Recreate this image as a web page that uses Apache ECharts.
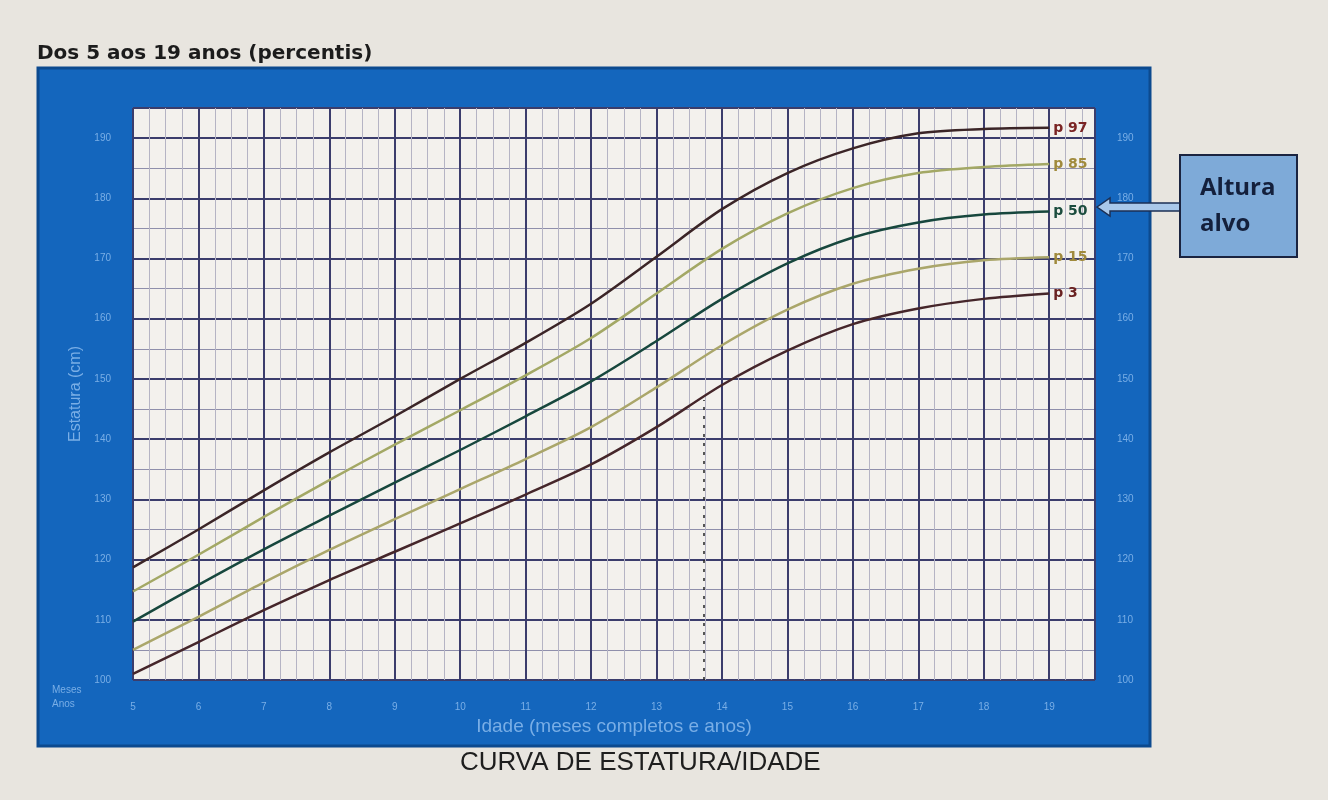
<!DOCTYPE html>
<html><head><meta charset="utf-8">
<script src="https://cdn.jsdelivr.net/npm/echarts@6/dist/echarts.min.js"></script>
<style>html,body{margin:0;padding:0;background:#e8e5df;}#c{width:1328px;height:800px;}</style>
</head><body><div id="c"></div>
<script>
const ages = [5,6,7,8,9,10,11,12,13,14,15,16,17,18,19];
const p97 = [118.7,125,131.5,137.8,143.8,150,156,162.5,170.3,178.2,184.2,188.3,190.8,191.5,191.7];
const p85 = [114.7,120.8,127.1,133.2,139.1,144.8,150.6,156.8,164.2,171.6,177.5,181.7,184.2,185.2,185.7];
const p50 = [109.7,115.8,121.7,127.3,132.8,138.2,143.8,149.6,156.3,163.3,169.2,173.5,176,177.3,177.8];
const p15 = [105,110.5,116.2,121.6,126.7,131.7,136.7,142,148.6,155.6,161.5,165.8,168.3,169.7,170.2];
const p3  = [101,106.3,111.6,116.6,121.3,126,130.8,135.8,142,149,154.7,159.1,161.7,163.3,164.2];
const names = ['p 97','p 85','p 50','p 15','p 3'];
const yTicks = [100,110,120,130,140,150,160,170,180,190];
const markerAge = 13.72, markerTop = 146.5;

const colors = ['#3b2527','#a3a865','#17473d','#aaa66a','#45262a'];
const labelColors = ['#7a2424','#a08a3c','#1c4d3e','#a08a3c','#6a2222'];
const all = [p97,p85,p50,p15,p3];
const lb = '#79aee6';
const series = all.map((arr,i)=>({
  type:'line', name:names[i], smooth:0.3, symbol:'none',
  data: ages.map((a,j)=>[a,arr[j]]),
  lineStyle:{color:colors[i], width:2.5},
  endLabel:{show:true, formatter:names[i], color:labelColors[i], fontWeight:'bold', fontSize:14, fontFamily:'DejaVu Sans', distance:4},
  z:5
}));
series[2].markLine = {silent:true, symbol:'none', label:{show:false},
  lineStyle:{type:[3,6], color:'#222', width:1.5},
  data:[[{coord:[markerAge,100]},{coord:[markerAge,markerTop]}]]};

const chart = echarts.init(document.getElementById('c'));
chart.setOption({
  animation:false,
  backgroundColor:'#e8e5df',
  graphic:[
    {type:'rect', shape:{x:38,y:68,width:1112,height:678}, style:{fill:'#1466bd', stroke:'#0c4a8f', lineWidth:3}, z:-10},
    {type:'text', left:37, top:44, style:{text:'Dos 5 aos 19 anos (percentis)', font:'bold 20px "DejaVu Sans"', fill:'#1c1c1c'}},
    {type:'text', left:460, top:750, style:{text:'CURVA DE ESTATURA/IDADE', font:'26px "Liberation Sans"', fill:'#1e1e1e'}},
    {type:'text', left:52, top:683, style:{text:'Meses\nAnos', font:'10px "Liberation Sans"', fill:lb, lineHeight:14, align:'center'}},
    {type:'polygon', shape:{points:[[1097,207],[1110,198],[1110,203],[1180,203],[1180,211],[1110,211],[1110,216]]}, style:{fill:'#a9c8ea', stroke:'#1b2f55', lineWidth:1.5}, z:20},
    {type:'rect', shape:{x:1180,y:155,width:117,height:102}, style:{fill:'#7eaad8', stroke:'#1b2440', lineWidth:2}, z:20},
    {type:'text', left:1200, top:170, style:{text:'Altura\nalvo', font:'bold 24px "Open Sans"', fill:'#14203c', lineHeight:36}, z:21}
  ],
  grid:{left:133, right:233, top:108, bottom:120, show:true, backgroundColor:'#f3f1ed', borderWidth:0},
  xAxis:{type:'value', min:5, max:19.7, interval:1,
    name:'Idade (meses completos e anos)', nameLocation:'middle', nameGap:35,
    nameTextStyle:{color:lb, fontSize:19, fontFamily:'Liberation Sans'},
    axisLine:{show:false}, axisTick:{show:false},
    axisLabel:{color:lb, fontSize:10, margin:22, formatter:v=>v<=19?v:''},
    splitLine:{show:true, lineStyle:{color:'#3b3d6c', width:2}},
    minorTick:{show:false, splitNumber:4},
    minorSplitLine:{show:true, lineStyle:{color:'#b5b4c4', width:1}}
  },
  yAxis:[
    {type:'value', min:100, max:195, interval:10,
     name:'Estatura (cm)', nameLocation:'middle', nameGap:48, nameRotate:90,
     nameTextStyle:{color:lb, fontSize:16, fontFamily:'Liberation Sans'},
     axisLine:{show:false}, axisTick:{show:false},
     axisLabel:{color:lb, fontSize:10, margin:22, formatter:v=>yTicks.includes(v)?v:''},
     splitLine:{show:true, lineStyle:{color:'#3b3d6c', width:2}},
     minorTick:{show:false, splitNumber:2},
     minorSplitLine:{show:true, lineStyle:{color:'#8f8fab', width:1}}},
    {type:'value', min:100, max:195, interval:10, position:'right',
     axisLine:{show:false}, axisTick:{show:false}, splitLine:{show:false},
     axisLabel:{color:lb, fontSize:10, margin:22, formatter:v=>yTicks.includes(v)?v:''}}
  ],
  series
});
</script></body></html>
